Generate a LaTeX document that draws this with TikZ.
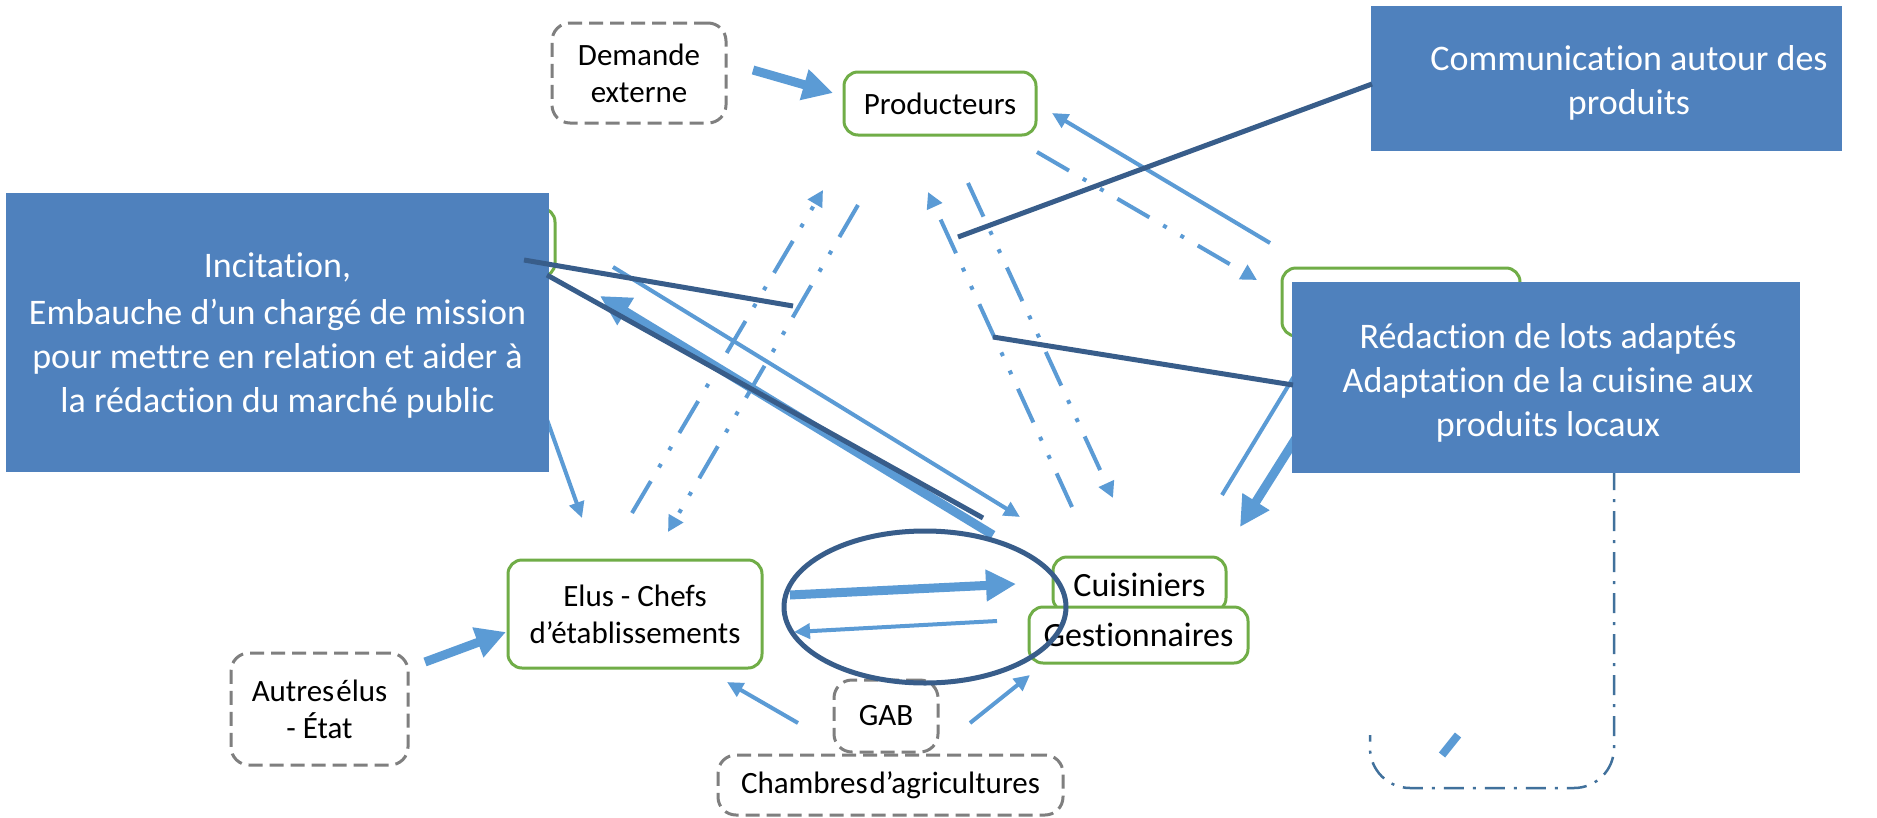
\documentclass[tikz,border=0pt]{standalone}
\usepackage{fontspec}
\setmainfont{Carlito}[Ligatures={NoCommon,NoContextual}]
\usetikzlibrary{arrows.meta}
\definecolor{lblue}{HTML}{5B9BD5}
\definecolor{boxblue}{HTML}{4F81BD}
\definecolor{dblue}{HTML}{385D8A}
\definecolor{lgreen}{HTML}{70AD47}
\definecolor{dgray}{HTML}{7F7F7F}
\definecolor{ddot}{HTML}{41719C}
\newcommand\mynodefont{\fontsize{31}{37}\selectfont}
\newcommand\mybigfont{\fontsize{34}{40}\selectfont}
\newcommand\mybluefont{\fontsize{36}{44}\selectfont}
\tikzset{
  greenbox/.style={draw=lgreen, line width=3pt, rounded corners=14pt, fill=white, inner sep=0pt, align=center, font=\mynodefont},
  graybox/.style={draw=dgray, line width=3pt, dash pattern=on 14pt off 7pt, rounded corners=18pt, fill=white, inner sep=0pt, align=center, font=\mynodefont},
  bluebox/.style={fill=boxblue, draw=none, inner sep=0pt},
  bluetext/.style={text=white, align=center, font=\mybluefont, inner sep=0pt},
  arrthin/.style={draw=lblue, line width=4pt, -{Triangle[length=16pt,width=15pt]}},
  arrthick/.style={draw=lblue, line width=9pt, -{Triangle[length=30pt,width=30pt]}},
  ddd/.style={draw=lblue, line width=4pt, dash pattern=on 37pt off 16pt on 4pt off 16pt on 4pt off 16pt, -{Triangle[length=16pt,width=16pt]}},
  callout/.style={draw=dblue, line width=5pt},
}
\begin{document}
\begin{tikzpicture}[x=1pt,y=-1pt]
\useasboundingbox (0,0) rectangle (1877,817);
\fill[white] (0,0) rectangle (1877,817);

% coordinates
\coordinate (dA1) at (753,70);   \coordinate (dA2) at (833,93);
\coordinate (eS) at (613,267);   \coordinate (eE) at (1020,517);
\coordinate (e2S) at (1270,243); \coordinate (e2E) at (1052,113);
\coordinate (hS) at (540,400);   \coordinate (hE) at (582,518);
\coordinate (fS) at (993,535);   \coordinate (fE) at (600,296);
\coordinate (aS) at (632,513);   \coordinate (aE) at (823,190);
\coordinate (bS) at (858,205);   \coordinate (bE) at (668,532);
\coordinate (cS) at (1072,507);  \coordinate (cE) at (928,192);
\coordinate (dS) at (968,183);   \coordinate (dE) at (1113,498);
\coordinate (pS) at (1037,152);  \coordinate (pE) at (1257,280);
\coordinate (iaS) at (790,595);  \coordinate (iaE) at (1016,584);
\coordinate (ibS) at (997,621);  \coordinate (ibE) at (794,632);
\coordinate (auS) at (425,662);  \coordinate (auE) at (506,632);
\coordinate (chS) at (798,723);  \coordinate (chE) at (727,682);
\coordinate (cgS) at (970,723);  \coordinate (cgE) at (1030,675);
\coordinate (rtS) at (1222,495); \coordinate (rtE) at (1310,350);
\coordinate (rkS) at (1320,400); \coordinate (rkE) at (1240,527);
\coordinate (sgS) at (1442,755); \coordinate (sgE) at (1458,735);
\coordinate (g1S) at (524,260);  \coordinate (g1E) at (793,306);
\coordinate (g2S) at (547,275);  \coordinate (g2E) at (983,518);
\coordinate (g3S) at (958,237);  \coordinate (g3E) at (1372,84);
\coordinate (g4S) at (993,337);  \coordinate (g4E) at (1293,385);
\coordinate (rr1) at (1614,470); \coordinate (rr2) at (1614,788);
\coordinate (rr3) at (1370,788); \coordinate (rr4) at (1370,735);

% hidden boxes
\node[greenbox, minimum width=175pt, minimum height=69pt] (hidA) at (467.5,242.5) {};
\node[greenbox, minimum width=238pt, minimum height=68pt] (hidB) at (1401,302) {};

% nodes
\node[graybox, minimum width=174pt, minimum height=100pt] (demande) at (639,73) {Demande\\externe};
\node[greenbox, minimum width=192pt, minimum height=63pt] (prod) at (940,103.5) {Producteurs};
\node[greenbox, minimum width=254pt, minimum height=108pt] (elus) at (635,614) {Elus - Chefs\\d’établissements};
\node[graybox, minimum width=177pt, minimum height=112pt] (autres) at (319.5,709) {Autres\kern2pt élus\\- État};
\node[graybox, minimum width=345pt, minimum height=60pt] (chambres) at (890.5,785) {Chambres\kern2pt d’agricultures};
\node[graybox, minimum width=104pt, minimum height=72pt] (gab) at (886,716) {GAB};
\node[greenbox, minimum width=173pt, minimum height=55pt, font=\mybigfont] (cuis) at (1139.5,584.5) {Cuisiniers};
\node[greenbox, minimum width=219pt, minimum height=56pt, font=\mybigfont] (gest) at (1138.5,635) {Gestionnaires};

% bottom-right dash-dot outline
\draw[ddot, line width=2.5pt, dash pattern=on 20pt off 9pt on 3pt off 9pt, rounded corners=40pt] (rr1) -- (rr2) -- (rr3) -- (rr4);
\draw[lblue, line width=8pt] (sgS) -- (sgE);

% light blue connectors
\draw[arrthick] (dA1) -- (dA2);
\draw[arrthin] (eS) -- (eE);
\draw[arrthin] (e2S) -- (e2E);
\draw[arrthin] (hS) -- (hE);
\draw[arrthick] (fS) -- (fE);
\draw[ddd] (aS) -- (aE);
\draw[ddd] (bS) -- (bE);
\draw[ddd] (cS) -- (cE);
\draw[ddd] (dS) -- (dE);
\draw[ddd] (pS) -- (pE);
\draw[arrthick] (iaS) -- (iaE);
\draw[arrthin] (ibS) -- (ibE);
\draw[arrthick] (auS) -- (auE);
\draw[arrthin] (chS) -- (chE);
\draw[arrthin] (cgS) -- (cgE);
\draw[arrthin] (rtS) -- (rtE);
\draw[arrthick] (rkS) -- (rkE);

% blue boxes
\node[bluebox, minimum width=543pt, minimum height=279pt] (incit) at (277.5,332.5) {};
\node[bluetext] (incittext) at (277.5,336) {Incitation,\\[3pt]Embauche d’un chargé de mission\\pour mettre en relation et aider à\\la rédaction du marché public};
\node[bluebox, minimum width=508pt, minimum height=191pt] (redac) at (1546,377.5) {};
\node[bluetext] (redactext) at (1548,383) {Rédaction de lots adaptés\\Adaptation de la cuisine aux\\produits locaux};
\node[bluebox, minimum width=471pt, minimum height=145pt] (comm) at (1606.5,78.5) {};
\node[bluetext] (commtext) at (1629,83) {Communication autour des\\produits};

% callouts
\draw[callout] (g1S) -- (g1E);
\draw[callout] (g2S) -- (g2E);
\draw[callout] (g3S) -- (g3E);
\draw[callout] (g4S) -- (g4E);
\draw[dblue, line width=5pt] (925,607) ellipse [x radius=141, y radius=76];
\end{tikzpicture}
\end{document}
